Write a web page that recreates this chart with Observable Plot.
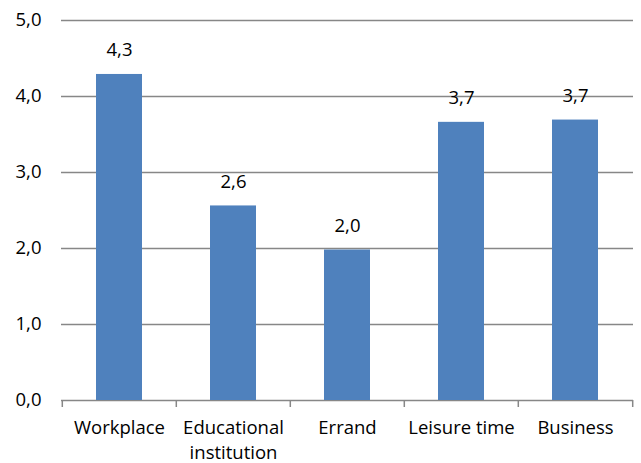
<!DOCTYPE html>
<html>
<head>
<meta charset="utf-8">
<script src="https://cdn.jsdelivr.net/npm/d3@7"></script>
<script src="https://cdn.jsdelivr.net/npm/@observablehq/plot@0.6"></script>
<style>
  html, body { margin: 0; padding: 0; background: #fff; }
  #chart svg { display: block; }
</style>
</head>
<body>
<div id="chart"></div>
<script>
// Average trips per category
const categories = ["Workplace", "Educational\ninstitution", "Errand", "Leisure time", "Business"];
const values = [4.29, 2.56, 1.98, 3.66, 3.69];
const yTicks = [0, 1, 2, 3, 4, 5];

const data = categories.map((c, i) => ({category: c, value: values[i]}));
const fmt = v => v.toFixed(1).replace(".", ",");

const width = 641, height = 463;
const marginLeft = 61, marginRight = 8, marginTop = 20, marginBottom = 63;
const step = (width - marginLeft - marginRight) / categories.length;
const gray = "#878787";
const font = "'Open Sans', sans-serif";
const fs = 18.5;

const plot = Plot.plot({
  width, height, marginLeft, marginRight, marginTop, marginBottom,
  style: {fontFamily: font, fontSize: fs + "px", color: "#000", background: "#fff", overflow: "visible"},
  x: {domain: categories, paddingInner: 0.6, paddingOuter: 0.3, label: null},
  y: {domain: [0, 5], label: null},
  marks: [
    Plot.ruleY(yTicks, {stroke: gray, strokeWidth: 1.5}),
    // category separators on the baseline
    Plot.ruleX(categories, {x: d => d, y1: 0, y2: 0, dx: -step / 2, insetTop: 7, stroke: gray, strokeWidth: 1.5}),
    Plot.ruleX([categories[categories.length - 1]], {x: d => d, y1: 0, y2: 0, dx: step / 2, insetTop: 7, stroke: gray, strokeWidth: 1.5}),
    Plot.barY(data, {x: "category", y: "value", fill: "#4F81BD"}),
    Plot.text(data, {x: "category", y: "value", text: d => fmt(d.value), dy: -24, fontSize: fs, fill: "#000"}),
    Plot.axisY({ticks: yTicks, tickFormat: fmt, tickSize: 0, tickPadding: 20, fontSize: fs, fill: "#000", label: null}),
    Plot.axisX({tickSize: 0, tickPadding: 16, fontSize: fs, lineHeight: 1.35, fill: "#000", label: null})
  ]
});
document.getElementById("chart").appendChild(plot);
</script>
</body>
</html>
